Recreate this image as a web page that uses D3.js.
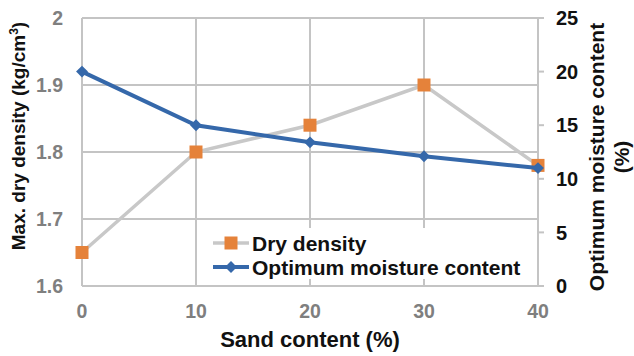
<!DOCTYPE html>
<html>
<head>
<meta charset="utf-8">
<script src="https://cdn.jsdelivr.net/npm/d3@7"></script>
<style>
  body { margin: 0; background: #fff; }
  text { font-family: "Liberation Sans", Arial, sans-serif; font-weight: bold; }
</style>
</head>
<body>
<div id="chart"></div>
<script>
const sandContent = [0, 10, 20, 30, 40];
const dryDensity = [1.65, 1.80, 1.84, 1.90, 1.78];
const moistureContent = [20.0, 15.0, 13.4, 12.1, 11.0];
const xTicks = [0, 10, 20, 30, 40];
const leftTicks = [1.6, 1.7, 1.8, 1.9, 2];
const rightTicks = [0, 5, 10, 15, 20, 25];

const width = 634, height = 356;
const margin = { top: 18, right: 96, bottom: 70, left: 82 };

const svg = d3.select("#chart").append("svg")
  .attr("width", width)
  .attr("height", height);

const x = d3.scaleLinear().domain([0, 40]).range([margin.left, width - margin.right]);
const yL = d3.scaleLinear().domain([1.6, 2]).range([height - margin.bottom, margin.top]);
const yR = d3.scaleLinear().domain([0, 25]).range([height - margin.bottom, margin.top]);

const gridColor = "#c4c4c4";

// gridlines
svg.append("g").selectAll("line").data(leftTicks).join("line")
  .attr("x1", x(0)).attr("x2", x(40))
  .attr("y1", d => yL(d)).attr("y2", d => yL(d))
  .attr("stroke", gridColor).attr("stroke-width", 2);

svg.append("g").selectAll("line").data(xTicks).join("line")
  .attr("x1", d => x(d)).attr("x2", d => x(d))
  .attr("y1", yL(2)).attr("y2", yL(1.6))
  .attr("stroke", gridColor).attr("stroke-width", 2);

// right axis tick marks
svg.append("g").selectAll("line").data(rightTicks).join("line")
  .attr("x1", x(40)).attr("x2", x(40) + 6)
  .attr("y1", d => yR(d)).attr("y2", d => yR(d))
  .attr("stroke", gridColor).attr("stroke-width", 2);

// tick labels
svg.append("g").selectAll("text").data(leftTicks).join("text")
  .attr("x", 63).attr("y", d => yL(d)).attr("dy", "0.36em")
  .attr("text-anchor", "end").attr("fill", "#7f7f7f").attr("font-size", 19.5)
  .text(d => d3.format("~g")(d));

svg.append("g").selectAll("text").data(xTicks).join("text")
  .attr("x", d => x(d)).attr("y", 318)
  .attr("text-anchor", "middle").attr("fill", "#7f7f7f").attr("font-size", 19.5)
  .text(d => d);

svg.append("g").selectAll("text").data(rightTicks).join("text")
  .attr("x", 556).attr("y", d => yR(d)).attr("dy", "0.36em")
  .attr("text-anchor", "start").attr("fill", "#111").attr("font-size", 20)
  .text(d => d);

// axis titles
svg.append("text")
  .attr("transform", `translate(25,136) rotate(-90)`)
  .attr("text-anchor", "middle").attr("font-size", 19).attr("fill", "#111")
  .html('Max. dry density (kg/cm<tspan dy="-7" font-size="12">3</tspan><tspan dy="7">)</tspan>');

const rTitle = svg.append("text")
  .attr("transform", `translate(604,157) rotate(-90)`)
  .attr("text-anchor", "middle").attr("font-size", 21).attr("fill", "#111");
rTitle.append("tspan").attr("x", 0).attr("y", 0).text("Optimum moisture content");
rTitle.append("tspan").attr("x", 0).attr("y", 25).text("(%)");

svg.append("text")
  .attr("x", x(20)).attr("y", 347)
  .attr("text-anchor", "middle").attr("font-size", 22).attr("fill", "#111")
  .text("Sand content (%)");

// legend background
svg.append("rect")
  .attr("x", 206).attr("y", 228).attr("width", 326).attr("height", 51)
  .attr("fill", "#fff");

// dry density series
const lineL = d3.line().x((d, i) => x(sandContent[i])).y(d => yL(d));
svg.append("path").datum(dryDensity)
  .attr("d", lineL).attr("fill", "none")
  .attr("stroke", "#c8c8c8").attr("stroke-width", 3.5);

const sq = 13;
svg.append("g").selectAll("rect").data(dryDensity).join("rect")
  .attr("x", (d, i) => x(sandContent[i]) - sq / 2)
  .attr("y", d => yL(d) - sq / 2)
  .attr("width", sq).attr("height", sq)
  .attr("fill", "#e5823a");

// moisture series
const lineR = d3.line().x((d, i) => x(sandContent[i])).y(d => yR(d));
svg.append("path").datum(moistureContent)
  .attr("d", lineR).attr("fill", "none")
  .attr("stroke", "#3568aa").attr("stroke-width", 4);

const diamond = d3.symbol().type(d3.symbolDiamond2).size(90);
svg.append("g").selectAll("path").data(moistureContent).join("path")
  .attr("transform", (d, i) => `translate(${x(sandContent[i])},${yR(d)})`)
  .attr("d", diamond)
  .attr("fill", "#3568aa");

// legend
const legend = [
  { name: "Dry density", line: "#c8c8c8", fill: "#e5823a", shape: "square", y: 243 },
  { name: "Optimum moisture content", line: "#3568aa", fill: "#3568aa", shape: "diamond", y: 267 }
];
const lg = svg.append("g").selectAll("g").data(legend).join("g")
  .attr("transform", d => `translate(213,${d.y})`);
lg.append("line").attr("x1", 0).attr("x2", 36)
  .attr("stroke", d => d.line).attr("stroke-width", d => d.shape === "square" ? 3.5 : 4);
lg.filter(d => d.shape === "square").append("rect")
  .attr("x", 18 - sq / 2).attr("y", -sq / 2).attr("width", sq).attr("height", sq)
  .attr("fill", d => d.fill);
lg.filter(d => d.shape === "diamond").append("path")
  .attr("transform", "translate(18,0)").attr("d", diamond).attr("fill", d => d.fill);
lg.append("text").attr("x", 39).attr("dy", "0.36em")
  .attr("font-size", 21).attr("fill", "#111")
  .text(d => d.name);
</script>
</body>
</html>
